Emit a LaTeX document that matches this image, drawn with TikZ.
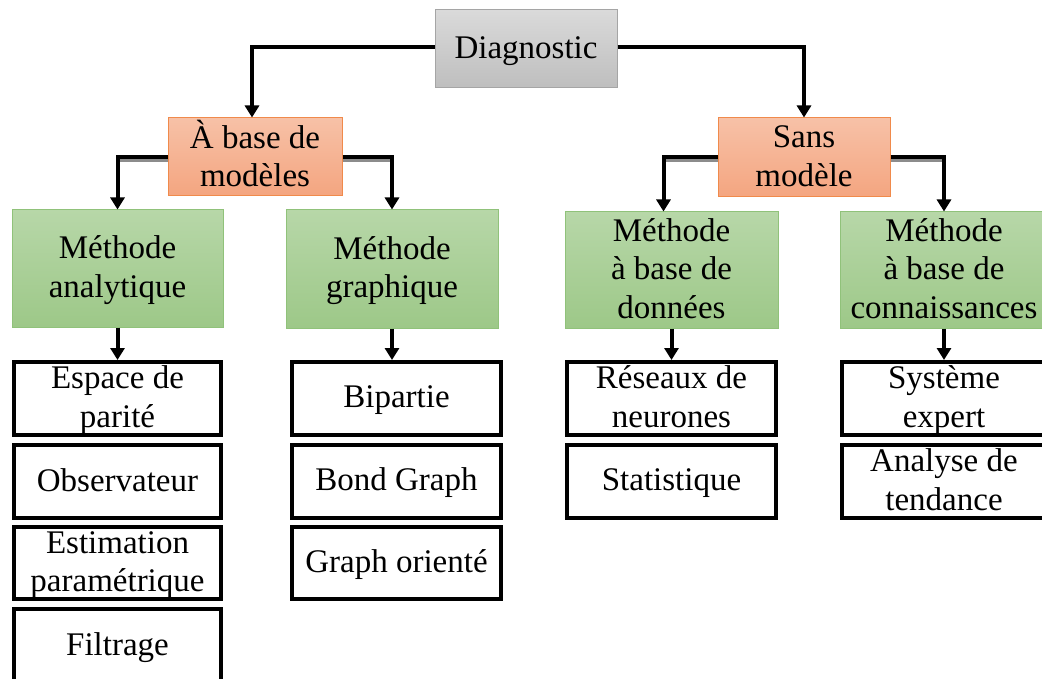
\documentclass[tikz,border=0pt]{standalone}
\usepackage{fontspec}
\setmainfont{Liberation Serif}
\usetikzlibrary{arrows.meta}
\definecolor{graytop}{RGB}{218,218,218}
\definecolor{graybot}{RGB}{190,190,190}
\definecolor{grayedge}{RGB}{165,165,165}
\definecolor{orangetop}{RGB}{247,193,167}
\definecolor{orangebot}{RGB}{244,165,128}
\definecolor{orangeedge}{RGB}{240,138,75}
\definecolor{greentop}{RGB}{183,215,168}
\definecolor{greenbot}{RGB}{157,200,136}
\definecolor{greenedge}{RGB}{144,194,122}
% box text with a fixed first-line height and last-line depth
\newcommand\bt[1]{\rule{0pt}{26pt}#1\rule[-7pt]{0pt}{7pt}}
\begin{document}
\begin{tikzpicture}[x=1pt,y=-1pt,
  base/.style={inner sep=0pt, align=center, font=\fontsize{33}{38.5}\selectfont},
  rootbox/.style={base, draw=grayedge, line width=1pt, top color=graytop, bottom color=graybot},
  catbox/.style={base, draw=orangeedge, line width=1pt, top color=orangetop, bottom color=orangebot},
  methbox/.style={base, draw=greenedge, line width=1pt, top color=greentop, bottom color=greenbot},
  leafbox/.style={base, draw=black, line width=4pt, fill=white},
  link/.style={line width=4pt, -{Triangle[width=14pt,length=12pt]}},
  linkshade/.style={line width=4pt, draw=black!45, transform canvas={yshift=-3pt}}]
\useasboundingbox (0,0) rectangle (1042,679);

% root and categories
\node[rootbox, minimum width=182, minimum height=78] (diag) at (526,49) {\bt{Diagnostic}};
\node[catbox, minimum width=174, minimum height=78] (abm) at (255,157) {\bt{À base de\\modèles}};
\node[catbox, minimum width=172, minimum height=79] (sm) at (804,157.5) {\bt{Sans\\modèle}};

% method boxes
\node[methbox, minimum width=211, minimum height=117] (ma) at (117.5,268.5) {\bt{Méthode\\analytique}};
\node[methbox, minimum width=212, minimum height=118] (mg) at (392,269) {\bt{Méthode\\graphique}};
\node[methbox, minimum width=213, minimum height=116] (md) at (671.5,270) {\bt{Méthode\\à base de\\données}};
\node[methbox, minimum width=208, minimum height=116] (mc) at (944,270) {\bt{Méthode\\à base de\\connaissances}};

% leaves, first column
\node[leafbox, minimum width=207, minimum height=73] (esp) at (117.5,398.5) {\bt{Espace de\\parité}};
\node[leafbox, minimum width=207, minimum height=73] (obs) at (117.5,481.5) {\bt{Observateur}};
\node[leafbox, minimum width=207, minimum height=72] (est) at (117.5,563) {\bt{Estimation\\paramétrique}};
\node[leafbox, minimum width=207, minimum height=91] (fil) at (117.5,654.5) {\rule{0pt}{26pt}Filtrage\rule[-24pt]{0pt}{24pt}};

% leaves, second column
\node[leafbox, minimum width=209, minimum height=73] (bip) at (396.5,398.5) {\bt{Bipartie}};
\node[leafbox, minimum width=209, minimum height=73] (bond) at (396.5,481.5) {\bt{Bond Graph}};
\node[leafbox, minimum width=209, minimum height=72] (gor) at (396.5,563) {\bt{Graph orienté}};

% leaves, third column
\node[leafbox, minimum width=209, minimum height=73] (res) at (671.5,398.5) {\bt{Réseaux de\\neurones}};
\node[leafbox, minimum width=209, minimum height=73] (stat) at (671.5,481.5) {\bt{Statistique}};

% leaves, fourth column
\node[leafbox, minimum width=204, minimum height=73] (sys) at (944,398.5) {\bt{Système\\expert}};
\node[leafbox, minimum width=204, minimum height=73] (ten) at (944,481.5) {\bt{Analyse de\\tendance}};

% connectors from the root
\draw[link] ([yshift=2pt]diag.west) -| ([xshift=-3pt]abm.north);
\draw[link] ([yshift=2pt]diag.east) -| (sm.north);

% connectors from the categories, with their shadow
\draw[linkshade] (abm.west) -- (abm.west -| ma.north);
\draw[linkshade] (abm.east) -- (abm.east -| mg.north);
\draw[linkshade] (sm.west) -- ([xshift=-8pt]sm.west -| md.north);
\draw[linkshade] (sm.east) -- (sm.east -| mc.north);
\draw[link] (abm.west) -| (ma.north);
\draw[link] (abm.east) -| (mg.north);
\draw[link] (sm.west) -| ([xshift=-8pt]md.north);
\draw[link] (sm.east) -| (mc.north);

% connectors to the leaves
\draw[link] (ma.south) -- (ma.south |- esp.north);
\draw[link] (mg.south) -- (mg.south |- bip.north);
\draw[link] (md.south) -- (md.south |- res.north);
\draw[link] (mc.south) -- (mc.south |- sys.north);
\end{tikzpicture}
\end{document}
